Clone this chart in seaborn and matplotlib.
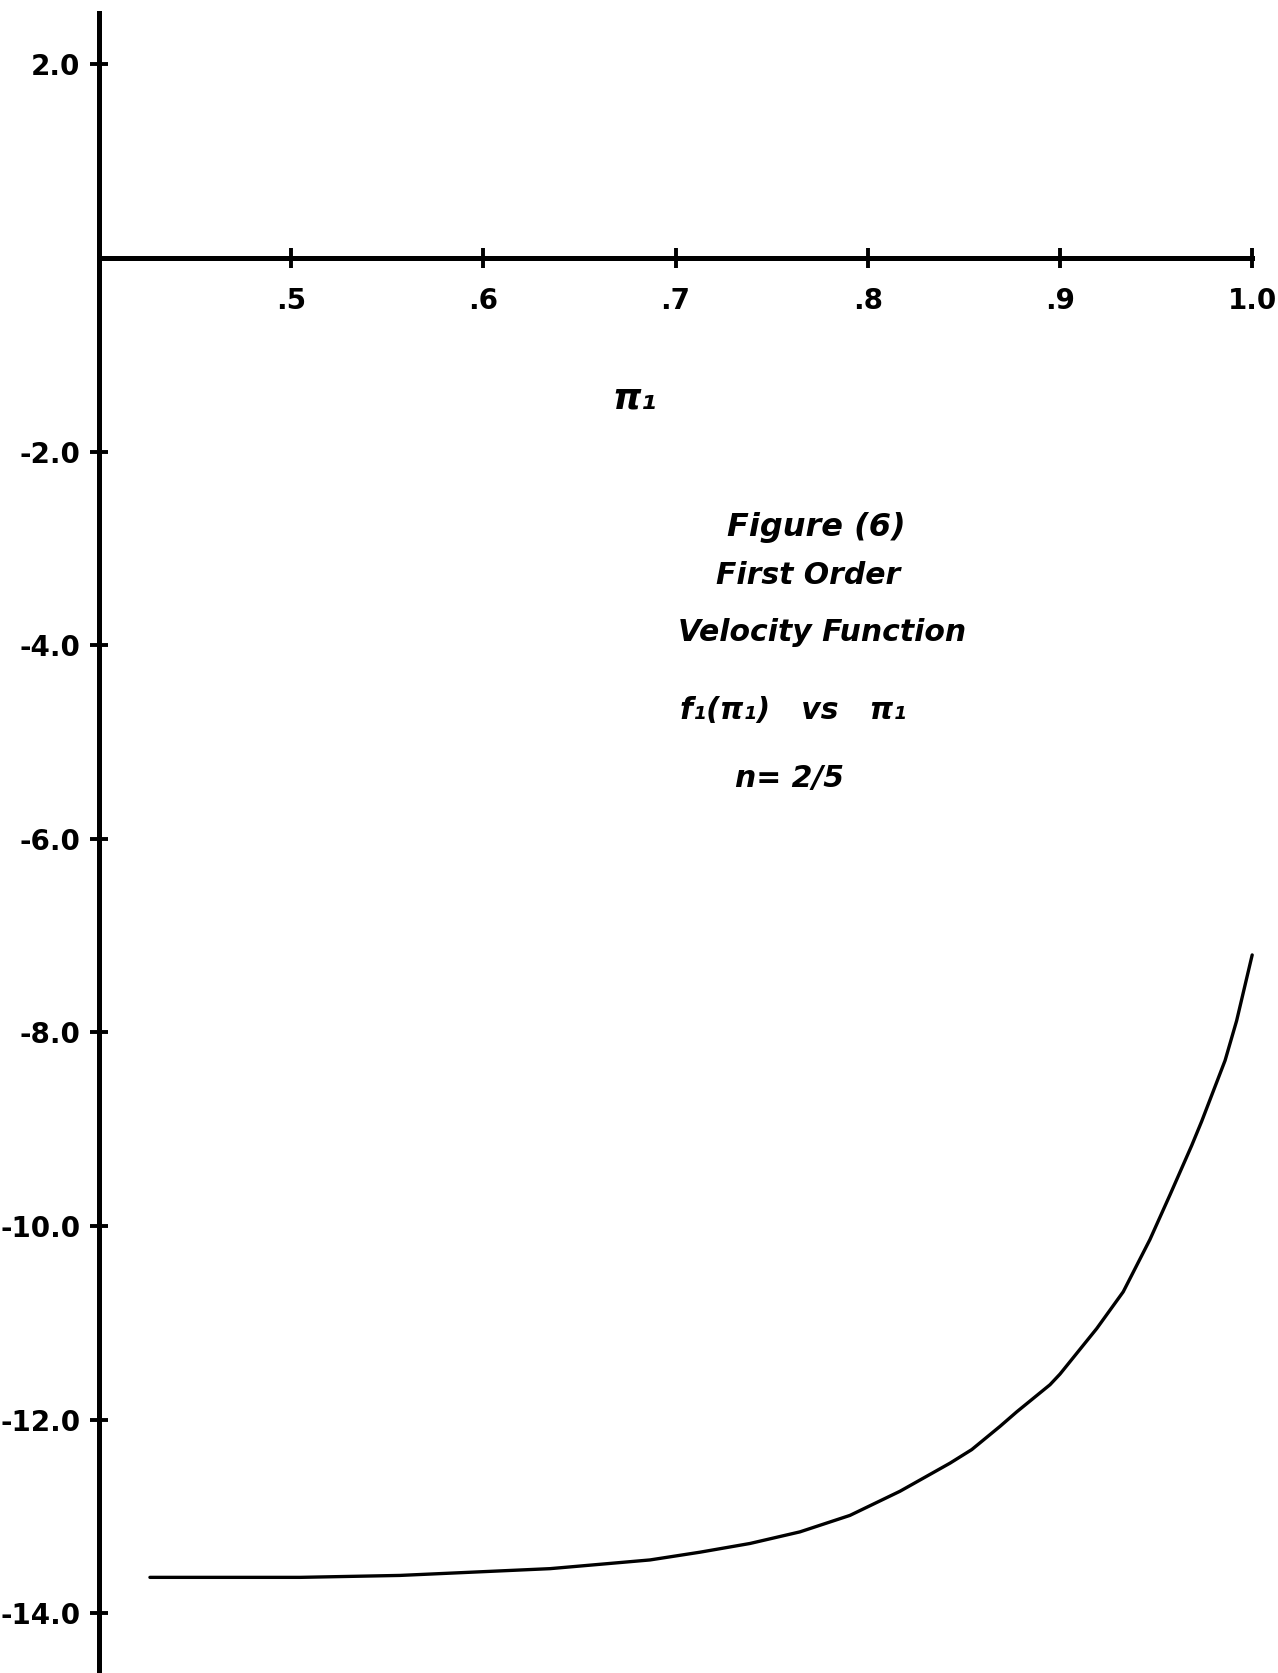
import matplotlib
matplotlib.use("Agg")
import matplotlib.pyplot as plt
import seaborn as sns
from matplotlib.ticker import FixedLocator, FixedFormatter

# ---- data ----
pi1 = [0.4265, 0.5046, 0.5566, 0.6347, 0.6867, 0.7127, 0.7387, 0.7647,
       0.7907, 0.8168, 0.8428, 0.8541, 0.8688, 0.8775, 0.8948, 0.9000,
       0.9191, 0.9329, 0.9468, 0.9572, 0.9685, 0.9737, 0.9859, 0.9919, 1.000]
f1 = [-13.63, -13.63, -13.61, -13.54, -13.45, -13.37, -13.28, -13.16,
      -12.99, -12.74, -12.45, -12.31, -12.07, -11.92, -11.64, -11.53,
      -11.06, -10.68, -10.14, -9.68, -9.17, -8.92, -8.29, -7.88, -7.20]

x_ticks = [0.5, 0.6, 0.7, 0.8, 0.9, 1.0]
x_tick_labels = [".5", ".6", ".7", ".8", ".9", "1.0"]
y_ticks = [2, -2, -4, -6, -8, -10, -12, -14]
y_tick_labels = ["2.0", "-2.0", "-4.0", "-6.0", "-8.0", "-10.0", "-12.0", "-14.0"]

sns.set_theme(style="white")
plt.rcParams['font.family'] = ['DejaVu Sans']

fig = plt.figure(figsize=(12.78, 16.73), dpi=100)
ax = fig.add_axes([0, 0, 1, 1])
ax.set_facecolor("white")

sns.lineplot(x=pi1, y=f1, color="black", linewidth=2.4, ax=ax)

ax.set_xlim(0.34849, 1.01343)
ax.set_ylim(-14.618, 2.665)

for s in ["top", "right"]:
    ax.spines[s].set_visible(False)
ax.spines["left"].set_position(("data", 0.4))
ax.spines["bottom"].set_position(("data", 0.0))
ax.spines["left"].set_bounds(-14.618, 2.53)
ax.spines["bottom"].set_bounds(0.4, 1.0)
for s in ["left", "bottom"]:
    ax.spines[s].set_linewidth(3.6)
    ax.spines[s].set_color("black")

ax.xaxis.set_major_locator(FixedLocator(x_ticks))
ax.xaxis.set_major_formatter(FixedFormatter(x_tick_labels))
ax.yaxis.set_major_locator(FixedLocator(y_ticks))
ax.yaxis.set_major_formatter(FixedFormatter(y_tick_labels))

ax.tick_params(axis="x", direction="inout", length=14.4, width=2.8,
               pad=14, labelsize=20, colors="black", bottom=True)
ax.tick_params(axis="y", direction="inout", length=13, width=2.8,
               pad=7, labelsize=20, colors="black", left=True)
for lab in ax.get_xticklabels() + ax.get_yticklabels():
    lab.set_fontweight("bold")

ax.set_xlabel("")
ax.set_ylabel("")

# axis label pi_1
ax.text(0.6789, -1.45, "π₁", fontsize=26, style="italic", fontweight="bold",
        ha="center", va="center", color="black")

# annotation block
block = [
    (0.773, -2.78, "Figure (6)", 23),
    (0.7689, -3.285, "First Order", 21.5),
    (0.7762, -3.864, "Velocity Function", 21.5),
    (0.761, -4.68, "f₁(π₁)   vs   π₁", 21.5),
    (0.7595, -5.38, "n= 2/5", 21.5),
]
for x, y, s, fs in block:
    ax.text(x, y, s, fontsize=fs, style="italic", fontweight="bold",
            ha="center", va="center", color="black")

fig.savefig("out.png", dpi=100, facecolor="white")
